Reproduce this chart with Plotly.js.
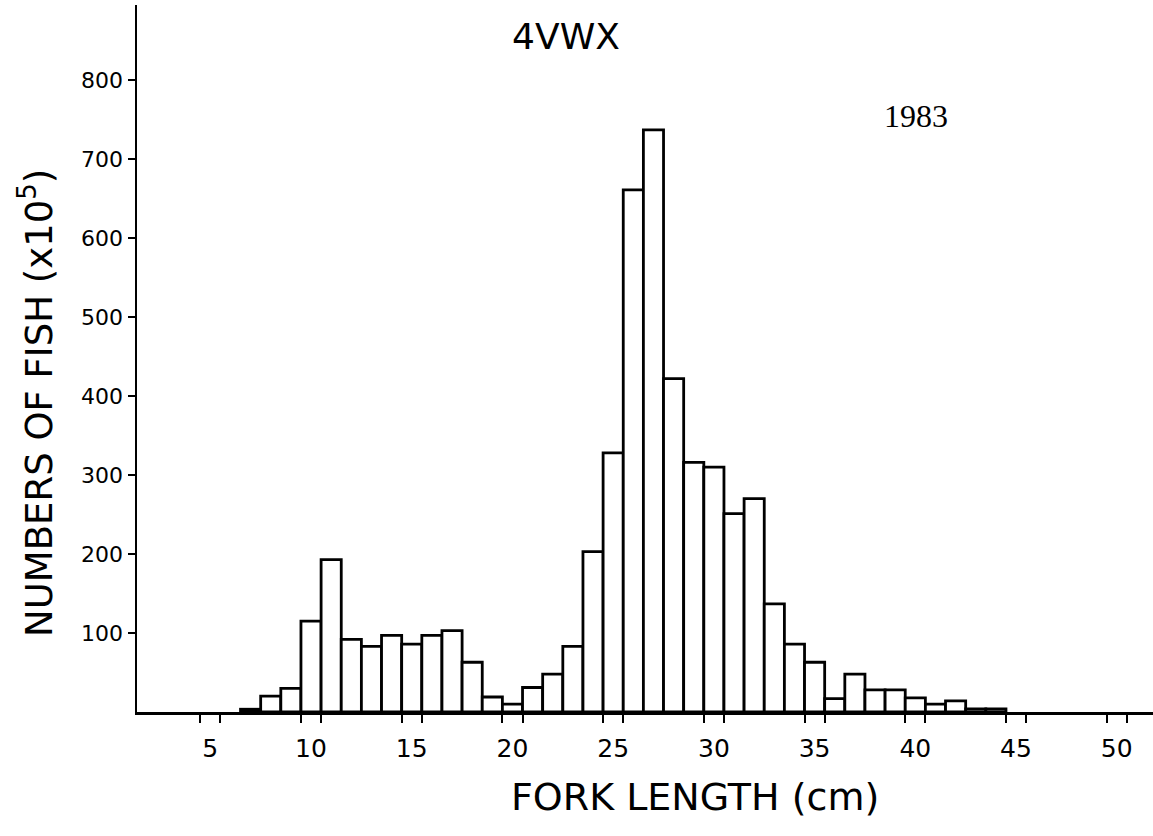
<!DOCTYPE html>
<html>
<head>
<meta charset="utf-8">
<script src="https://cdn.plot.ly/plotly-3.0.1.min.js"></script>
<style>
html, body { margin: 0; padding: 0; background: #ffffff; }
#chart { width: 1153px; height: 836px; }
</style>
</head>
<body>
<div id="chart"></div>
<script>
// Fork length classes (cm) and numbers of fish (x10^5)
const forkLengths = [7, 8, 9, 10, 11, 12, 13, 14, 15, 16, 17, 18, 19, 20,
  21, 22, 23, 24, 25, 26, 27, 28, 29, 30, 31, 32, 33, 34, 35, 36, 37, 38,
  39, 40, 41, 42, 43, 44];
const numbersOfFish = [3.5, 20, 30, 115, 193, 92, 83, 97, 86, 97, 103, 63, 19, 10,
  31, 48, 83, 203, 328, 661, 737, 422, 316, 310, 251, 270, 137, 86, 63, 17, 48, 28,
  28, 18, 10, 14, 4, 4];

const xTickValues = [5, 10, 15, 20, 25, 30, 35, 40, 45, 50];
const xTickLabels = ['5', '10', '15', '20', '25', '30', '35', '40', '45', '50'];
const yTickValues = [100, 200, 300, 400, 500, 600, 700, 800];
const yTickLabels = ['100', '200', '300', '400', '500', '600', '700', '800'];

const chartTitle = '4VWX';
const yearLabel = '1983';
const xTitle = 'FORK LENGTH (cm)';
const yTitle = 'NUMBERS OF FISH (x10<sup>5</sup>)';

// paired ticks at the class edges around each labelled length
const xEdgeTicks = [];
xTickValues.forEach(v => { xEdgeTicks.push(v - 0.5, v + 0.5); });

const font = 'DejaVu Sans, Verdana, sans-serif';

const trace = {
  type: 'bar',
  x: forkLengths,
  y: numbersOfFish,
  width: 1,
  marker: { color: '#ffffff', line: { color: '#000000', width: 2.8 } },
  hoverinfo: 'x+y'
};

const plotL = 137, plotW = 1153 - 137, plotT = 5, plotH = 836 - 5 - 124;
function px(xp) { return (xp - plotL) / plotW; }
function py(yp) { return 1 - (yp - plotT) / plotH; }

const layout = {
  width: 1153,
  height: 836,
  margin: { l: 137, r: 0, t: 5, b: 124 },
  paper_bgcolor: '#ffffff',
  plot_bgcolor: '#ffffff',
  showlegend: false,
  bargap: 0,
  font: { family: font, color: '#000000' },
  title: {
    text: chartTitle,
    font: { family: font, size: 36, color: '#000000' },
    x: 566 / 1153, xanchor: 'center',
    y: 1 - 36 / 836, yanchor: 'middle'
  },
  xaxis: {
    range: [1.36, 51.8],
    showgrid: false,
    zeroline: false,
    showline: true,
    linecolor: '#000000',
    linewidth: 2.5,
    tickmode: 'array',
    tickvals: xTickValues,
    ticktext: xTickLabels,
    ticks: '',
    ticklabelstandoff: 12,
    tickfont: { family: font, size: 25, color: '#000000' },
    minor: {
      tickmode: 'array',
      tickvals: xEdgeTicks,
      ticks: 'outside',
      ticklen: 8,
      tickwidth: 2,
      tickcolor: '#000000',
      showgrid: false
    }
  },
  yaxis: {
    range: [0, 895],
    showgrid: false,
    zeroline: false,
    showline: true,
    linecolor: '#000000',
    linewidth: 2.5,
    tickmode: 'array',
    tickvals: yTickValues,
    ticktext: yTickLabels,
    ticks: 'outside',
    ticklen: 7,
    tickwidth: 2,
    tickcolor: '#000000',
    tickfont: { family: font, size: 22, color: '#000000' }
  },
  annotations: [
    {
      text: yearLabel, xref: 'paper', yref: 'paper',
      x: px(916), y: py(116), xanchor: 'center', yanchor: 'middle', showarrow: false,
      font: { family: 'Liberation Serif, serif', size: 32, color: '#000000' }
    },
    {
      text: xTitle, xref: 'paper', yref: 'paper',
      x: px(695), y: py(797), xanchor: 'center', yanchor: 'middle', showarrow: false,
      font: { family: font, size: 38, color: '#000000' }
    },
    {
      text: yTitle, xref: 'paper', yref: 'paper', textangle: -90,
      x: px(36), y: py(403), xanchor: 'center', yanchor: 'middle', showarrow: false,
      font: { family: font, size: 37, color: '#000000' }
    }
  ],
  hovermode: false
};

Plotly.newPlot('chart', [trace], layout, { displayModeBar: false, staticPlot: true });
</script>
</body>
</html>
